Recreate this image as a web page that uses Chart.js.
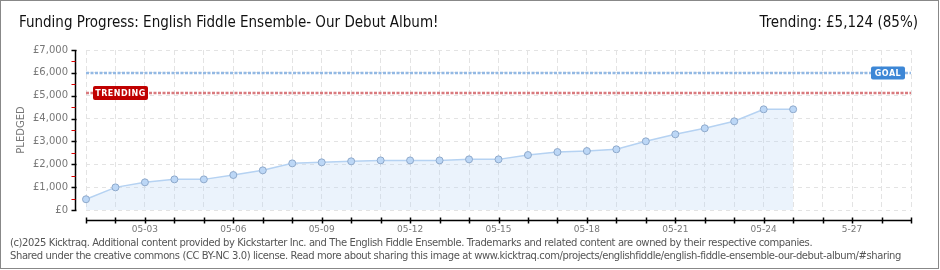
<!DOCTYPE html>
<html>
<head>
<meta charset="utf-8">
<script src="https://cdn.jsdelivr.net/npm/chart.js@4/dist/chart.umd.min.js"></script>
<style>
    body { margin: 0; background: #fff; }
    #wrap { position: relative; width: 940px; height: 270px; overflow: hidden; }
    #frame { position: absolute; left: 0; top: 0; width: 939px; height: 269px; box-sizing: border-box; border: 1px solid #888; pointer-events: none; }
    canvas { position: absolute; left: 0; top: 0; }
    .title { position: absolute; top: 13px; font-family: 'DejaVu Sans Condensed', 'Liberation Sans Narrow', 'DejaVu Sans', sans-serif; font-size: 15px; color: #111; white-space: nowrap; }
    #title-left { left: 19px; }
    #title-right { right: 22px; }
    .foot { position: absolute; left: 10px; font-family: 'DejaVu Sans', sans-serif; font-size: 10px; letter-spacing: -0.4px; color: #555; white-space: nowrap; }
    #foot1 { top: 237px; }
    #foot2 { top: 250px; }
</style>
</head>
<body>
<div id="wrap">
    <canvas id="pledgeChart" width="940" height="270"></canvas>
    <div class="title" id="title-left">Funding Progress: English Fiddle Ensemble- Our Debut Album!</div>
    <div class="title" id="title-right">Trending: £5,124 (85%)</div>
    <div class="foot" id="foot1">(c)2025 Kicktraq. Additional content provided by Kickstarter Inc. and The English Fiddle Ensemble. Trademarks and related content are owned by their respective companies.</div>
    <div class="foot" id="foot2">Shared under the creative commons (CC BY-NC 3.0) license. Read more about sharing this image at www.kicktraq.com/projects/englishfiddle/english-fiddle-ensemble-our-debut-album/#sharing</div>
    <div id="frame"></div>
</div>
<script>
// Data
const dates = ['05-01', '05-02', '05-03', '05-04', '05-05', '05-06', '05-07', '05-08', '05-09', '05-10',
    '05-11', '05-12', '05-13', '05-14', '05-15', '05-16', '05-17', '05-18', '05-19', '05-20',
    '05-21', '05-22', '05-23', '05-24', '05-25', '05-26', '05-27', '05-28', '05-29'];
const xTickLabels = ['', '', '05-03', '', '', '05-06', '', '', '05-09', '',
    '', '05-12', '', '', '05-15', '', '', '05-18', '', '',
    '05-21', '', '', '05-24', '', '', '5-27', '', ''];
const pledged = [470, 990, 1210, 1340, 1340, 1530, 1735, 2040, 2085, 2130,
    2170, 2170, 2170, 2215, 2215, 2405, 2535, 2580, 2655, 3005,
    3310, 3575, 3880, 4405, 4405];
const goal = 6000;
const trending = 5124;
const yMax = 7000;
const yStep = 1000;

// Axis lines drawn off the plot area, plus goal / trending markers
const extrasPlugin = {
    id: 'extras',
    afterDatasetsDraw(chart) {
        const ctx = chart.ctx;
        const area = chart.chartArea;
        const x = chart.scales.x, y = chart.scales.y;

        // goal + trending lines
        function refLine(val, color) {
            const py = Math.round(y.getPixelForValue(val));
            ctx.save();
            ctx.strokeStyle = color;
            ctx.lineWidth = 2.5;
            ctx.setLineDash([3, 1.5]);
            ctx.beginPath();
            ctx.moveTo(area.left, py);
            ctx.lineTo(area.right, py);
            ctx.stroke();
            ctx.restore();
            return py;
        }
        const gy = refLine(goal, '#93b9e4');
        const ty = refLine(trending, '#d97a7e');

        function tag(text, left, cy, w, h, fill) {
            ctx.save();
            ctx.fillStyle = fill;
            ctx.beginPath();
            ctx.roundRect(left, cy - h / 2, w, h, 2);
            ctx.fill();
            ctx.fillStyle = '#fff';
            ctx.font = 'bold 8px "DejaVu Sans", sans-serif';
            ctx.textBaseline = 'middle';
            ctx.textAlign = 'center';
            ctx.letterSpacing = '0.5px';
            ctx.fillText(text, left + w / 2, cy + 0.5);
            ctx.restore();
        }
        tag('GOAL', area.right - 40, gy, 34, 13, '#3d87d6');
        tag('TRENDING', area.left + 7, ty, 55, 14, '#c00000');

        // y axis
        const ax = Math.round(area.left) - 10.5;
        ctx.save();
        ctx.strokeStyle = '#000';
        ctx.lineWidth = 1.5;
        ctx.beginPath();
        ctx.moveTo(ax, y.getPixelForValue(yMax));
        ctx.lineTo(ax, y.getPixelForValue(0));
        ctx.stroke();
        for (let v = 0; v <= yMax; v += yStep) {
            const py = Math.round(y.getPixelForValue(v)) + 0.5;
            ctx.strokeStyle = '#000';
            ctx.beginPath();
            ctx.moveTo(ax - 4, py);
            ctx.lineTo(ax + 1, py);
            ctx.stroke();
            if (v < yMax) {
                const my = Math.round(y.getPixelForValue(v + yStep / 2)) + 0.5;
                ctx.strokeStyle = '#e00000';
                ctx.lineWidth = 1;
                ctx.beginPath();
                ctx.moveTo(ax - 4, my);
                ctx.lineTo(ax, my);
                ctx.stroke();
                ctx.lineWidth = 1.5;
            }
        }

        // x axis
        const ay = Math.round(area.bottom) + 10.5;
        ctx.strokeStyle = '#000';
        ctx.lineWidth = 1.5;
        ctx.beginPath();
        ctx.moveTo(area.left, ay);
        ctx.lineTo(area.right, ay);
        ctx.stroke();
        dates.forEach((d, i) => {
            const px = Math.round(x.getPixelForValue(i)) + 0.5;
            ctx.beginPath();
            ctx.moveTo(px, ay - 3);
            ctx.lineTo(px, ay + 3);
            ctx.stroke();
        });
        ctx.restore();
    }
};

const ctx = document.getElementById('pledgeChart').getContext('2d');
const pledgeChart = new Chart(ctx, {
    type: 'line',
    data: {
        labels: dates,
        datasets: [{
            label: 'Pledged',
            data: pledged,
            borderColor: '#b5d2f2',
            borderWidth: 1.5,
            backgroundColor: 'rgba(190,215,245,0.3)',
            fill: 'origin',
            tension: 0,
            clip: false,
            pointRadius: 3.5,
            pointBorderWidth: 1,
            pointBackgroundColor: '#bcd7f6',
            pointBorderColor: '#8ea9cb'
        }]
    },
    options: {
        responsive: false,
        devicePixelRatio: 1,
        animation: false,
        layout: { padding: { top: 50, right: 29, left: 0, bottom: 0 } },
        plugins: { legend: { display: false }, tooltip: { enabled: false } },
        scales: {
            x: {
                type: 'category',
                grid: { color: '#e3e3e3', drawTicks: false },
                border: { display: false, dash: [5, 3] },
                ticks: {
                    autoSkip: false, maxRotation: 0, padding: 14,
                    color: '#777', font: { family: 'DejaVu Sans', size: 9 },
                    callback: (v, i) => xTickLabels[i]
                },
                afterFit: s => { s.height = 60; }
            },
            y: {
                min: 0, max: yMax,
                grid: { color: '#e3e3e3', drawTicks: false },
                border: { display: false, dash: [4, 4] },
                ticks: {
                    stepSize: yStep, padding: 18,
                    color: '#777', font: { family: 'DejaVu Sans', size: 10 },
                    callback: v => '£' + v.toLocaleString('en-GB')
                },
                title: {
                    display: true, text: 'PLEDGED', color: '#777',
                    font: { family: 'DejaVu Sans', size: 10 },
                    padding: { top: 15, bottom: 0 }
                },
                afterFit: s => { s.width = 86; }
            }
        }
    },
    plugins: [extrasPlugin]
});
</script>
</body>
</html>
